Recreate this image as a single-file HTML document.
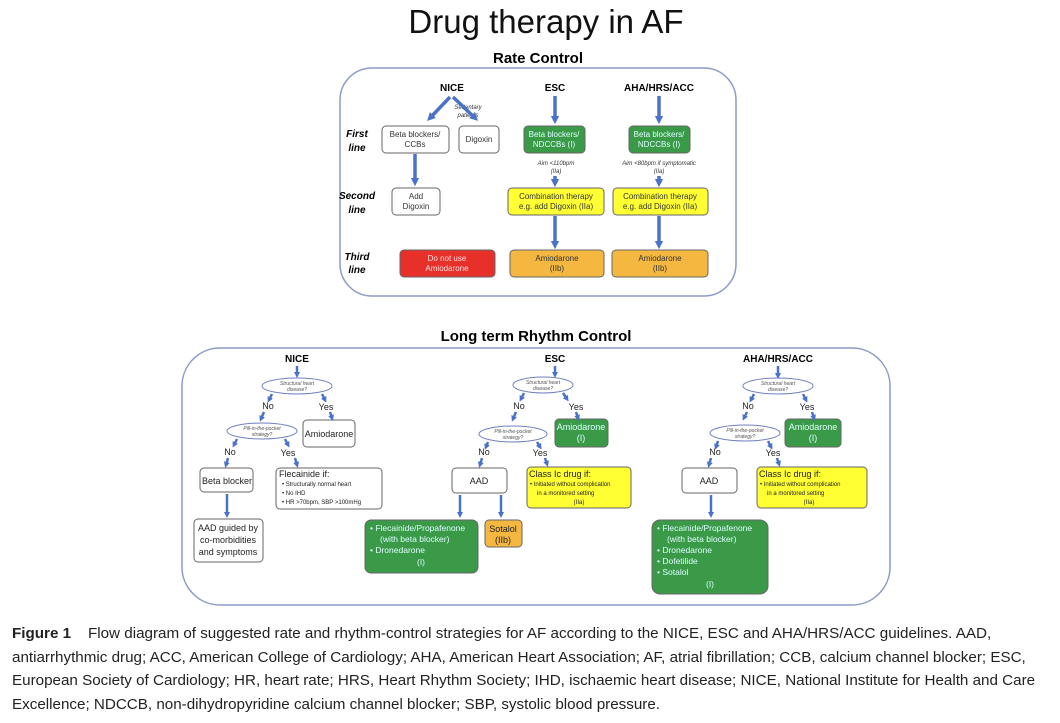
<!DOCTYPE html>
<html><head><meta charset="utf-8"><style>
body{margin:0;width:1060px;height:723px;background:#fff;overflow:hidden;font-family:"Liberation Sans",sans-serif;position:relative}
svg{position:absolute;left:0;top:0}
.cap{position:absolute;left:12px;top:622px;width:1045px;font-size:15.2px;line-height:23.6px;color:#222}
</style></head><body>
<svg width="1060" height="723" viewBox="0 0 1060 723" font-family="Liberation Sans, sans-serif">
<defs><marker id="a" markerWidth="2.4" markerHeight="2.4" refX="1.2" refY="1.2" orient="auto" markerUnits="strokeWidth"><path d="M0,0 L2.4,1.2 L0,2.4 z" fill="#4a72c8"/></marker></defs>
<text x="546" y="33" font-size="33" text-anchor="middle" fill="#111">Drug therapy in AF</text>
<text x="538" y="63" font-size="15" font-weight="bold" text-anchor="middle">Rate Control</text>
<rect x="340" y="68" width="396" height="228" rx="32" fill="none" stroke="#8a9bc8" stroke-width="1.5"/>
<g font-size="10" font-weight="bold" text-anchor="middle"><text x="452" y="91">NICE</text><text x="555" y="91">ESC</text><text x="659" y="91">AHA/HRS/ACC</text></g>
<g font-size="10" font-weight="bold" font-style="italic" text-anchor="middle"><text x="357" y="137">First</text><text x="357" y="151">line</text><text x="357" y="199">Second</text><text x="357" y="213">line</text><text x="357" y="260">Third</text><text x="357" y="273">line</text></g>
<g stroke="#666" stroke-width="1" font-size="8" text-anchor="middle">
<rect x="382" y="126" width="67" height="27" rx="4" fill="#fff"/><rect x="459" y="126" width="40" height="27" rx="4" fill="#fff"/>
<rect x="524" y="126" width="61" height="27" rx="4" fill="#3a9a48"/><rect x="629" y="126" width="61" height="27" rx="4" fill="#3a9a48"/>
<rect x="392" y="188" width="48" height="27" rx="4" fill="#fff"/>
<rect x="508" y="188" width="96" height="27" rx="4" fill="#ffff33"/><rect x="613" y="188" width="95" height="27" rx="4" fill="#ffff33"/>
<rect x="400" y="250" width="95" height="27" rx="4" fill="#e8302a"/><rect x="510" y="250" width="94" height="27" rx="4" fill="#f4b740"/><rect x="612" y="250" width="96" height="27" rx="4" fill="#f4b740"/>
</g>
<g font-size="8" text-anchor="middle" fill="#333">
<text x="415" y="137">Beta blockers/</text><text x="415" y="147">CCBs</text><text x="479" y="142">Digoxin</text>
<text x="554" y="137" fill="#dff">Beta blockers/</text><text x="554" y="147" fill="#dff">NDCCBs (I)</text>
<text x="659" y="137" fill="#dff">Beta blockers/</text><text x="659" y="147" fill="#dff">NDCCBs (I)</text>
<text x="416" y="199">Add</text><text x="416" y="209">Digoxin</text>
<text x="556" y="199">Combination therapy</text><text x="556" y="209">e.g. add Digoxin (IIa)</text>
<text x="660" y="199">Combination therapy</text><text x="660" y="209">e.g. add Digoxin (IIa)</text>
<text x="447" y="261" fill="#fdd">Do not use</text><text x="447" y="271" fill="#fdd">Amiodarone</text>
<text x="557" y="261">Amiodarone</text><text x="557" y="271">(IIb)</text>
<text x="660" y="261">Amiodarone</text><text x="660" y="271">(IIb)</text>
<g font-size="6" font-style="italic"><text x="468" y="109">Sedentary</text><text x="468" y="117">patients</text>
<text x="556" y="165">Aim &lt;110bpm</text><text x="556" y="173">(IIa)</text>
<text x="659" y="165">Aim &lt;80bpm if symptomatic</text><text x="659" y="173">(IIa)</text></g>
</g>
<g stroke="#4a72c8" stroke-width="3.5" fill="none" marker-end="url(#a)">
<path d="M450,97 L430,118"/><path d="M453,97 L475,118"/><path d="M415,154 V182"/>
<path d="M555,96 V120"/><path d="M555,176 V183"/><path d="M555,216 V245"/>
<path d="M659,96 V120"/><path d="M659,176 V183"/><path d="M659,216 V245"/>
</g>
<text x="536" y="341" font-size="15" font-weight="bold" text-anchor="middle">Long term Rhythm Control</text>
<rect x="182" y="348" width="708" height="257" rx="38" fill="none" stroke="#8a9bc8" stroke-width="1.5"/>
<g font-size="10" font-weight="bold" text-anchor="middle"><text x="297" y="362">NICE</text><text x="555" y="362">ESC</text><text x="778" y="362">AHA/HRS/ACC</text></g>
<g fill="#fff" stroke="#7080c0" stroke-width="1">
<ellipse cx="297" cy="386" rx="35" ry="8"/><ellipse cx="262" cy="431" rx="35" ry="8"/>
<ellipse cx="543" cy="385" rx="30" ry="8"/><ellipse cx="513" cy="434" rx="34" ry="8"/>
<ellipse cx="778" cy="386" rx="35" ry="8"/><ellipse cx="745" cy="433" rx="35" ry="8"/>
</g>
<g font-size="5" font-style="italic" text-anchor="middle" fill="#555">
<text x="297" y="385">Structural heart</text><text x="297" y="391">disease?</text>
<text x="262" y="430">Pill-in-the-pocket</text><text x="262" y="436">strategy?</text>
<text x="543" y="384">Structural heart</text><text x="543" y="390">disease?</text>
<text x="513" y="433">Pill-in-the-pocket</text><text x="513" y="439">strategy?</text>
<text x="778" y="385">Structural heart</text><text x="778" y="391">disease?</text>
<text x="745" y="432">Pill-in-the-pocket</text><text x="745" y="438">strategy?</text>
</g>
<g font-size="9" text-anchor="middle" fill="#222">
<text x="268" y="409">No</text><text x="326" y="410">Yes</text><text x="230" y="455">No</text><text x="288" y="456">Yes</text>
<text x="519" y="409">No</text><text x="576" y="410">Yes</text><text x="484" y="455">No</text><text x="540" y="456">Yes</text>
<text x="748" y="409">No</text><text x="807" y="410">Yes</text><text x="715" y="455">No</text><text x="773" y="456">Yes</text>
</g>
<g stroke="#666" stroke-width="1">
<rect x="303" y="420" width="52" height="27" rx="4" fill="#fff"/>
<rect x="200" y="468" width="53" height="24" rx="4" fill="#fff"/>
<rect x="276" y="468" width="106" height="41" rx="4" fill="#fff"/>
<rect x="194" y="519" width="69" height="43" rx="4" fill="#fff"/>
<rect x="555" y="419" width="53" height="28" rx="4" fill="#3a9a48"/>
<rect x="452" y="468" width="55" height="25" rx="4" fill="#fff"/>
<rect x="527" y="467" width="104" height="41" rx="4" fill="#ffff33"/>
<rect x="365" y="520" width="113" height="53" rx="6" fill="#3a9a48"/>
<rect x="485" y="520" width="37" height="27" rx="4" fill="#f4b740"/>
<rect x="785" y="419" width="56" height="28" rx="4" fill="#3a9a48"/>
<rect x="682" y="468" width="55" height="25" rx="4" fill="#fff"/>
<rect x="757" y="467" width="110" height="41" rx="4" fill="#ffff33"/>
<rect x="652" y="520" width="116" height="74" rx="8" fill="#3a9a48"/>
</g>
<g font-size="9" fill="#222">
<text x="329" y="437" text-anchor="middle">Amiodarone</text>
<text x="227" y="484" text-anchor="middle">Beta blocker</text>
<text x="279" y="477">Flecainide if:</text>
<text x="228" y="531" text-anchor="middle">AAD guided by</text><text x="228" y="543" text-anchor="middle">co-morbidities</text><text x="228" y="555" text-anchor="middle">and symptoms</text>
<text x="581" y="430" text-anchor="middle" fill="#dff">Amiodarone</text><text x="581" y="441" text-anchor="middle" fill="#dff">(I)</text>
<text x="479" y="484" text-anchor="middle">AAD</text>
<text x="529" y="477">Class Ic drug if:</text>
<text x="503" y="532" text-anchor="middle">Sotalol</text><text x="503" y="543" text-anchor="middle">(IIb)</text>
<text x="813" y="430" text-anchor="middle" fill="#dff">Amiodarone</text><text x="813" y="441" text-anchor="middle" fill="#dff">(I)</text>
<text x="709" y="484" text-anchor="middle">AAD</text>
<text x="759" y="477">Class Ic drug if:</text>
</g>
<g font-size="6" fill="#222">
<text x="282" y="486">•   Structurally normal heart</text><text x="282" y="495">•   No IHD</text><text x="282" y="504">•   HR &gt;70bpm, SBP &gt;100mHg</text>
<text x="530" y="486">•   Initiated without complication</text><text x="537" y="495">in a monitored setting</text><text x="579" y="504" text-anchor="middle">(IIa)</text>
<text x="760" y="486">•   Initiated without complication</text><text x="767" y="495">in a monitored setting</text><text x="809" y="504" text-anchor="middle">(IIa)</text>
</g>
<g font-size="8.5" fill="#dff">
<text x="370" y="531">•  Flecainide/Propafenone</text><text x="380" y="542">(with beta blocker)</text><text x="370" y="553">•  Dronedarone</text><text x="421" y="565" text-anchor="middle">(I)</text>
<text x="657" y="531">•  Flecainide/Propafenone</text><text x="667" y="542">(with beta blocker)</text><text x="657" y="553">•  Dronedarone</text><text x="657" y="564">•  Dofetilide</text><text x="657" y="575">•  Sotalol</text><text x="710" y="587" text-anchor="middle">(I)</text>
</g>
<g stroke="#4a72c8" stroke-width="2.5" fill="none" marker-end="url(#a)">
<path d="M297,366 V375"/><path d="M272,394 L269,400"/><path d="M264,412 L261,419"/><path d="M322,394 L325,400"/><path d="M330,412 L332,418"/>
<path d="M237,439 L234,445"/><path d="M228,458 L226,465"/><path d="M285,439 L288,445"/><path d="M295,458 L297,465"/>
<path d="M227,494 V515"/>
<path d="M555,366 V375"/><path d="M524,393 L521,399"/><path d="M516,412 L513,419"/><path d="M563,393 L567,399"/><path d="M576,412 L578,418"/>
<path d="M488,442 L486,447"/><path d="M482,458 L480,465"/><path d="M537,442 L540,447"/><path d="M545,458 L547,464"/>
<path d="M460,495 V515"/><path d="M501,495 V515"/>
<path d="M778,366 V376"/><path d="M754,394 L751,400"/><path d="M747,412 L744,418"/><path d="M803,394 L806,400"/><path d="M812,412 L814,418"/>
<path d="M718,441 L716,447"/><path d="M711,458 L709,465"/><path d="M768,441 L771,447"/><path d="M777,458 L779,464"/>
<path d="M711,495 V515"/>
</g>
</svg>
<div class="cap"><b>Figure 1</b>&nbsp;&nbsp;&nbsp;&nbsp;Flow diagram of suggested rate and rhythm-control strategies for AF according to the NICE, ESC and AHA/HRS/ACC guidelines. AAD, antiarrhythmic drug; ACC, American College of Cardiology; AHA, American Heart Association; AF, atrial fibrillation; CCB, calcium channel blocker; ESC, European Society of Cardiology; HR, heart rate; HRS, Heart Rhythm Society; IHD, ischaemic heart disease; NICE, National Institute for Health and Care Excellence; NDCCB, non-dihydropyridine calcium channel blocker; SBP, systolic blood pressure.</div>
</body></html>
